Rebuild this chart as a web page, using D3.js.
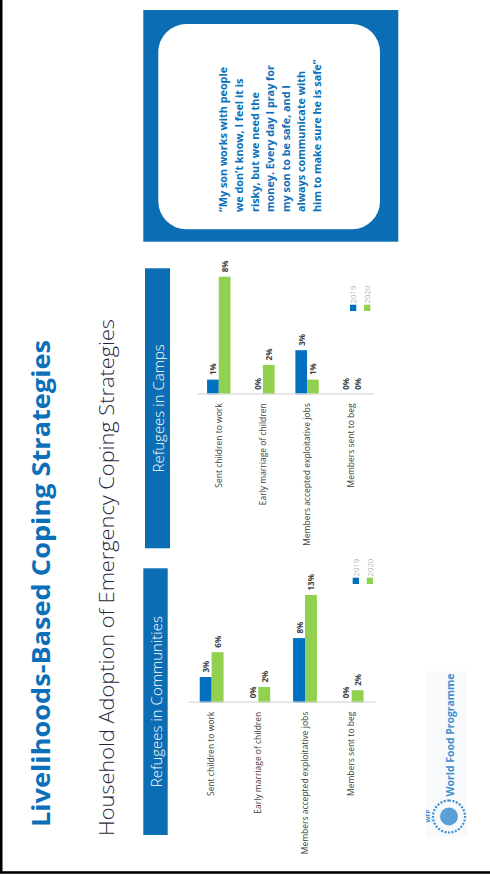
<!DOCTYPE html>
<html>
<head>
<meta charset="utf-8">
<script src="https://cdn.jsdelivr.net/npm/d3@7"></script>
<style>
  body { margin: 0; background: #ffffff; }
  svg { display: block; }
</style>
</head>
<body>
<svg id="slide" width="490" height="878"></svg>
<script>
'use strict'

// ---- data ----
const categories = ['Sent children to work', 'Early marriage of children', 'Members accepted exploitative jobs', 'Members sent to beg']
const years = ['2019', '2020']
const communities2019 = [3.1, 0, 7.8, 0]
const communities2020 = [6.1, 1.9, 13.0, 1.5]
const camps2019 = [1, 0, 3, 0]
const camps2020 = [8, 2, 1, 0]
const panelTitles = ['Refugees in Communities', 'Refugees in Camps']
const slideTitle = 'Livelihoods-Based Coping Strategies'
const slideSubtitle = 'Household Adoption of Emergency Coping Strategies'
const quoteLines = [
  '\u201CMy son works with people',
  'we don\u2019t know, I feel it is',
  'risky, but we need the',
  'money. Every day I pray for',
  'my son to be safe, and I',
  'always communicate with',
  'him to make sure he is safe\u201D'
]

const BLUE = '#0070c0'
const GREEN = '#92d050'
const BOX = '#0b6db4'
const fmt = d => d3.format('.0f')(d) + '%'
const colour = d3.scaleOrdinal(years, [BLUE, GREEN])

const svg = d3.select('#slide')

// the slide is photographed lying on its side: draw it upright, then turn it
const slide = svg.append('g')
  .attr('transform', 'translate(0,878) rotate(-90)')

// frame (only top and left edges fall inside the picture)
slide.append('rect')
  .attr('x', 5.5).attr('y', 1.2)
  .attr('width', 1000).attr('height', 600)
  .attr('fill', 'none')
  .attr('stroke', '#000').attr('stroke-width', 2.6)

// headings
slide.append('text')
  .attr('x', 51).attr('y', 50)
  .attr('font-family', 'Open Sans, sans-serif')
  .attr('font-weight', 700)
  .attr('font-size', 25)
  .attr('textLength', 487)
  .attr('lengthAdjust', 'spacingAndGlyphs')
  .attr('fill', '#0b6fba')
  .text(slideTitle)

slide.append('text')
  .attr('x', 42).attr('y', 113.5)
  .attr('font-family', 'Open Sans, sans-serif')
  .attr('font-weight', 300)
  .attr('font-size', 20.5)
  .attr('textLength', 517)
  .attr('lengthAdjust', 'spacingAndGlyphs')
  .attr('fill', '#1f2940')
  .text(slideSubtitle)

// ---- bar panels ----
const panels = [
  { title: panelTitles[0], v2019: communities2019, v2020: communities2020,
    head: [43, 143.3, 266.7, 24.4], axisU: 175.3, max: 13, span: 107.7,
    band: [188.3, 375], pad: 0.49, legend: [294, 352.7] },
  { title: panelTitles[1], v2019: camps2019, v2020: camps2020,
    head: [329.7, 145, 280, 25], axisU: 483.7, max: 8, span: 117.6,
    band: [196.7, 373.3], pad: 0.47, legend: [567, 350] }
]

panels.forEach(p => {
  const g = slide.append('g')

  // header band
  g.append('rect')
    .attr('x', p.head[0]).attr('y', p.head[1])
    .attr('width', p.head[2]).attr('height', p.head[3])
    .attr('fill', BOX)
  g.append('text')
    .attr('x', p.head[0] + p.head[2] / 2)
    .attr('y', p.head[1] + p.head[3] / 2)
    .attr('text-anchor', 'middle')
    .attr('dominant-baseline', 'central')
    .attr('font-family', 'Open Sans, sans-serif')
    .attr('font-weight', 300)
    .attr('font-size', 15)
    .attr('fill', '#fff')
    .text(p.title)

  const x = d3.scaleLinear().domain([0, p.max]).range([p.axisU, p.axisU + p.span])
  const y = d3.scaleBand(categories, p.band).paddingInner(p.pad).paddingOuter(p.pad / 2)
  const y1 = d3.scaleBand(years, [0, y.bandwidth()])

  const rows = categories.map((c, i) => ({
    cat: c,
    vals: [{ year: '2019', v: p.v2019[i] }, { year: '2020', v: p.v2020[i] }]
  }))

  const grp = g.selectAll('.grp')
    .data(rows)
    .join('g')
      .attr('class', 'grp')
      .attr('transform', d => `translate(0,${y(d.cat)})`)

  grp.selectAll('rect')
    .data(d => d.vals)
    .join('rect')
      .attr('x', x(0))
      .attr('y', d => y1(d.year))
      .attr('width', d => x(d.v) - x(0))
      .attr('height', y1.bandwidth())
      .attr('fill', d => colour(d.year))

  grp.selectAll('.val')
    .data(d => d.vals)
    .join('text')
      .attr('class', 'val')
      .attr('x', d => x(d.v) + 4.5)
      .attr('y', d => y1(d.year) + y1.bandwidth() / 2)
      .attr('dominant-baseline', 'central')
      .attr('font-family', 'Open Sans, sans-serif')
      .attr('font-weight', 700)
      .attr('font-size', 8)
      .attr('fill', '#404040')
      .text(d => fmt(d.v))

  // category axis
  const axis = g.append('g')
    .attr('transform', `translate(${x(0)},0)`)
    .call(d3.axisLeft(y).tickSize(0).tickPadding(9))
  axis.select('.domain').attr('stroke', '#d9d9d9').attr('stroke-width', 1.2)
  axis.selectAll('text')
    .attr('font-family', 'Open Sans, sans-serif')
    .attr('font-size', 8.5)
    .attr('fill', '#404040')

  // legend
  const lg = g.append('g')
    .attr('transform', `translate(${p.legend[0]},${p.legend[1]})`)
  const item = lg.selectAll('g')
    .data(years)
    .join('g')
      .attr('transform', (d, i) => `translate(0,${i * 14})`)
  item.append('rect')
    .attr('width', 6.3).attr('height', 6.3)
    .attr('fill', d => colour(d))
  item.append('text')
    .attr('x', 7.5).attr('y', 3.2)
    .attr('dominant-baseline', 'central')
    .attr('font-family', 'Open Sans, sans-serif')
    .attr('font-weight', 300)
    .attr('font-size', 7.8)
    .attr('fill', '#7f7f7f')
    .text(d => d)
})

// ---- quote box ----
slide.append('rect')
  .attr('x', 636.3).attr('y', 143.3)
  .attr('width', 231.7).attr('height', 255)
  .attr('fill', BOX)
slide.append('rect')
  .attr('x', 648.7).attr('y', 158.3)
  .attr('width', 205.3).attr('height', 221.7)
  .attr('rx', 28).attr('ry', 28)
  .attr('fill', '#fff')
slide.append('text')
  .attr('font-family', 'Open Sans, sans-serif')
  .attr('font-weight', 700)
  .attr('font-size', 10.8)
  .attr('fill', '#0b6fba')
  .selectAll('tspan')
  .data(quoteLines)
  .join('tspan')
    .attr('x', 666)
    .attr('y', (d, i) => 227.3 + i * 15.6)
    .text(d => d)

// ---- WFP logo ----
const logo = slide.append('g').attr('transform', 'translate(61.5,449)')
logo.append('rect')
  .attr('x', -20).attr('y', -23).attr('width', 165).attr('height', 41)
  .attr('fill', '#f7f9fb')
logo.append('circle').attr('r', 16)
  .attr('fill', 'none').attr('stroke', '#3d8fd1').attr('stroke-width', 2.2)
  .attr('stroke-dasharray', '2 1.5')
logo.append('circle').attr('r', 9)
  .attr('fill', '#3d8fd1').attr('opacity', 0.85)
logo.append('text')
  .attr('x', -6).attr('y', -19)
  .attr('font-family', 'Open Sans, sans-serif')
  .attr('font-weight', 700)
  .attr('font-size', 6)
  .attr('fill', '#3d8fd1')
  .text('WFP')
logo.append('text')
  .attr('x', 20).attr('y', 0)
  .attr('dominant-baseline', 'central')
  .attr('font-family', 'Open Sans, sans-serif')
  .attr('font-weight', 700)
  .attr('font-size', 11)
  .attr('textLength', 123)
  .attr('lengthAdjust', 'spacingAndGlyphs')
  .attr('fill', '#3d8fd1')
  .text('World Food Programme')
</script>
</body>
</html>
